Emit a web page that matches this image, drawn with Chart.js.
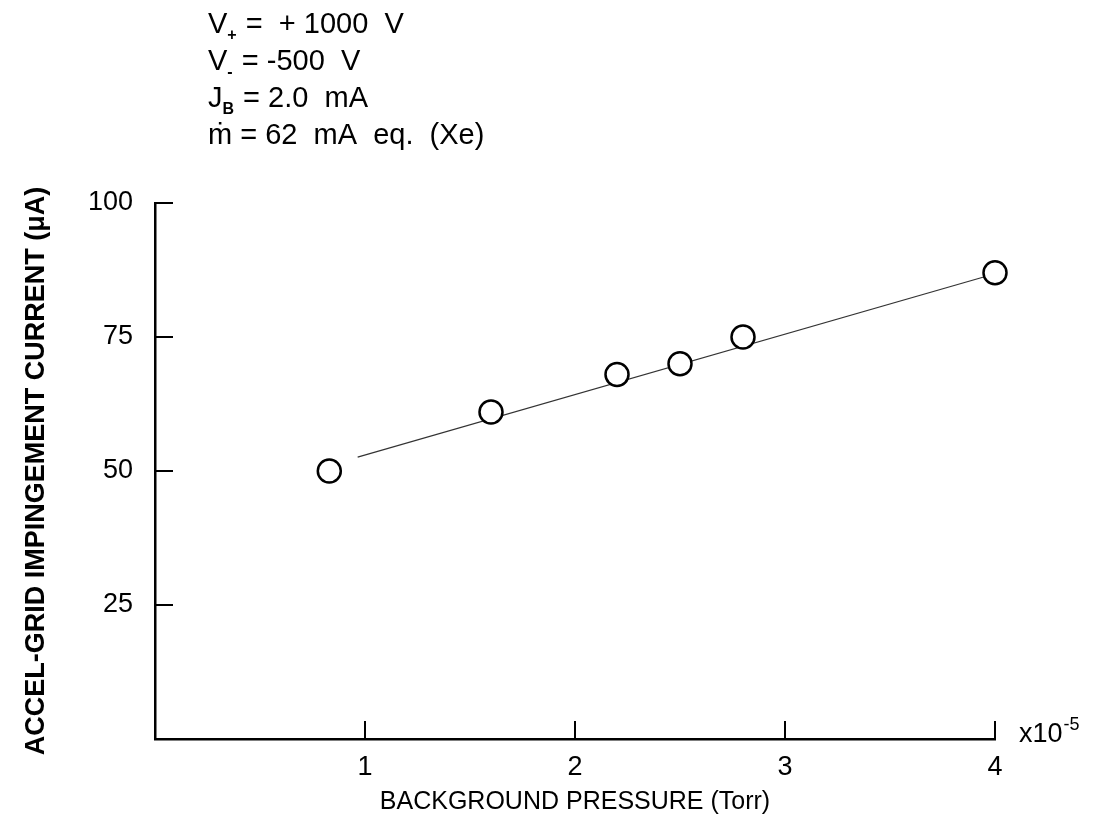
<!DOCTYPE html>
<html>
<head>
<meta charset="utf-8">
<script src="https://cdn.jsdelivr.net/npm/chart.js@4.4.1/dist/chart.umd.min.js"></script>
<style>
  html, body { margin: 0; padding: 0; background: #fff; }
  #wrap { width: 1107px; height: 824px; }
</style>
</head>
<body>
<div id="wrap"><canvas id="chart" width="1107" height="824"></canvas></div>
<script>
// measured points, pressure in units of 1e-5 Torr
const pressure = [0.83, 1.6, 2.2, 2.5, 2.8, 4.0];
const current = [50, 61, 68, 70, 75, 87];

// hand drawn fit line, start and end
const fitPressure = [0.965, 4.0];
const fitCurrent = [52.6, 86.8];

const xTicks = [1, 2, 3, 4];
const yTicks = [25, 50, 75, 100];

// conditions box, top left; [text, isSubscript]
const notes = [
  [['V', false], ['+', true], [' =  + 1000  V', false]],
  [['V', false], ['-', true], [' = -500  V', false]],
  [['J', false], ['B', true], [' = 2.0  mA', false]],
  [['\u1E41', false], [' = 62  mA  eq.  (Xe)', false]]
];

const FONT = "'Liberation Sans', Arial, Helvetica, sans-serif";

const notesPlugin = {
  id: 'notes',
  afterDraw(chart) {
    const ctx = chart.ctx;
    ctx.save();
    ctx.fillStyle = '#000';
    ctx.textBaseline = 'alphabetic';
    notes.forEach((line, i) => {
      let x = 208;
      const base = 33 + i * 37;
      line.forEach(([txt, sub]) => {
        ctx.font = sub ? `bold 16px ${FONT}` : `29px ${FONT}`;
        ctx.fillText(txt, x, sub ? base + 7 : base);
        x += ctx.measureText(txt).width + (sub ? 1 : 0);
      });
    });

    // exponent at the end of the x axis
    const xs = chart.scales.x;
    ctx.font = `27px ${FONT}`;
    ctx.fillText('x10', xs.right + 24, xs.top + 3);
    const w = ctx.measureText('x10').width;
    ctx.font = `18px ${FONT}`;
    ctx.fillText('-5', xs.right + 25 + w, xs.top - 9);
    ctx.restore();
  }
};

// ticks on this chart point into the plot area
const inwardTicks = {
  id: 'inwardTicks',
  afterDraw(chart) {
    const { ctx, scales: { x, y } } = chart;
    ctx.save();
    ctx.strokeStyle = '#000';
    ctx.lineWidth = 2;
    ctx.beginPath();
    xTicks.forEach(v => {
      const px = x.getPixelForValue(v);
      ctx.moveTo(px, x.top);
      ctx.lineTo(px, x.top - 18);
    });
    yTicks.forEach(v => {
      const py = y.getPixelForValue(v);
      ctx.moveTo(y.right, py);
      ctx.lineTo(y.right + 18, py);
    });
    ctx.stroke();
    ctx.restore();
  }
};

new Chart(document.getElementById('chart'), {
  type: 'scatter',
  data: {
    datasets: [
      {
        label: 'measured',
        data: pressure.map((p, i) => ({ x: p, y: current[i] })),
        pointRadius: 11.5,
        pointBorderWidth: 2.5,
        pointBorderColor: '#000',
        pointBackgroundColor: '#fff',
        showLine: false,
        clip: false,
        order: 1
      },
      {
        label: 'fit',
        type: 'line',
        data: fitPressure.map((p, i) => ({ x: p, y: fitCurrent[i] })),
        borderColor: '#333',
        borderWidth: 1.2,
        pointRadius: 0,
        fill: false,
        clip: false,
        order: 2
      }
    ]
  },
  options: {
    responsive: false,
    animation: false,
    events: [],
    layout: { padding: { left: 0, right: 112, top: 203, bottom: 0 } },
    plugins: {
      legend: { display: false },
      tooltip: { enabled: false }
    },
    scales: {
      x: {
        type: 'linear',
        min: 0,
        max: 4,
        afterFit: s => { s.height = 85; },
        afterBuildTicks: s => { s.ticks = xTicks.map(v => ({ value: v })); },
        grid: { display: false, drawTicks: false },
        border: { display: true, color: '#000', width: 2.5 },
        ticks: {
          color: '#000',
          padding: 12,
          font: { family: FONT, size: 27 }
        },
        title: {
          display: true,
          text: 'BACKGROUND PRESSURE (Torr)',
          color: '#000',
          font: { family: FONT, size: 25 },
          padding: { bottom: 7 }
        }
      },
      y: {
        type: 'linear',
        min: 0,
        max: 100,
        afterFit: s => { s.width = 155; },
        afterBuildTicks: s => { s.ticks = yTicks.map(v => ({ value: v })); },
        grid: { display: false, drawTicks: false },
        border: { display: true, color: '#000', width: 2.5 },
        ticks: {
          color: '#000',
          padding: 22,
          font: { family: FONT, size: 27 }
        },
        title: {
          display: true,
          text: 'ACCEL-GRID IMPINGEMENT CURRENT (\u03BCA)',
          color: '#000',
          font: { family: FONT, size: 27, weight: 'bold' },
          padding: { top: 20 }
        }
      }
    }
  },
  plugins: [notesPlugin, inwardTicks]
});
</script>
</body>
</html>
